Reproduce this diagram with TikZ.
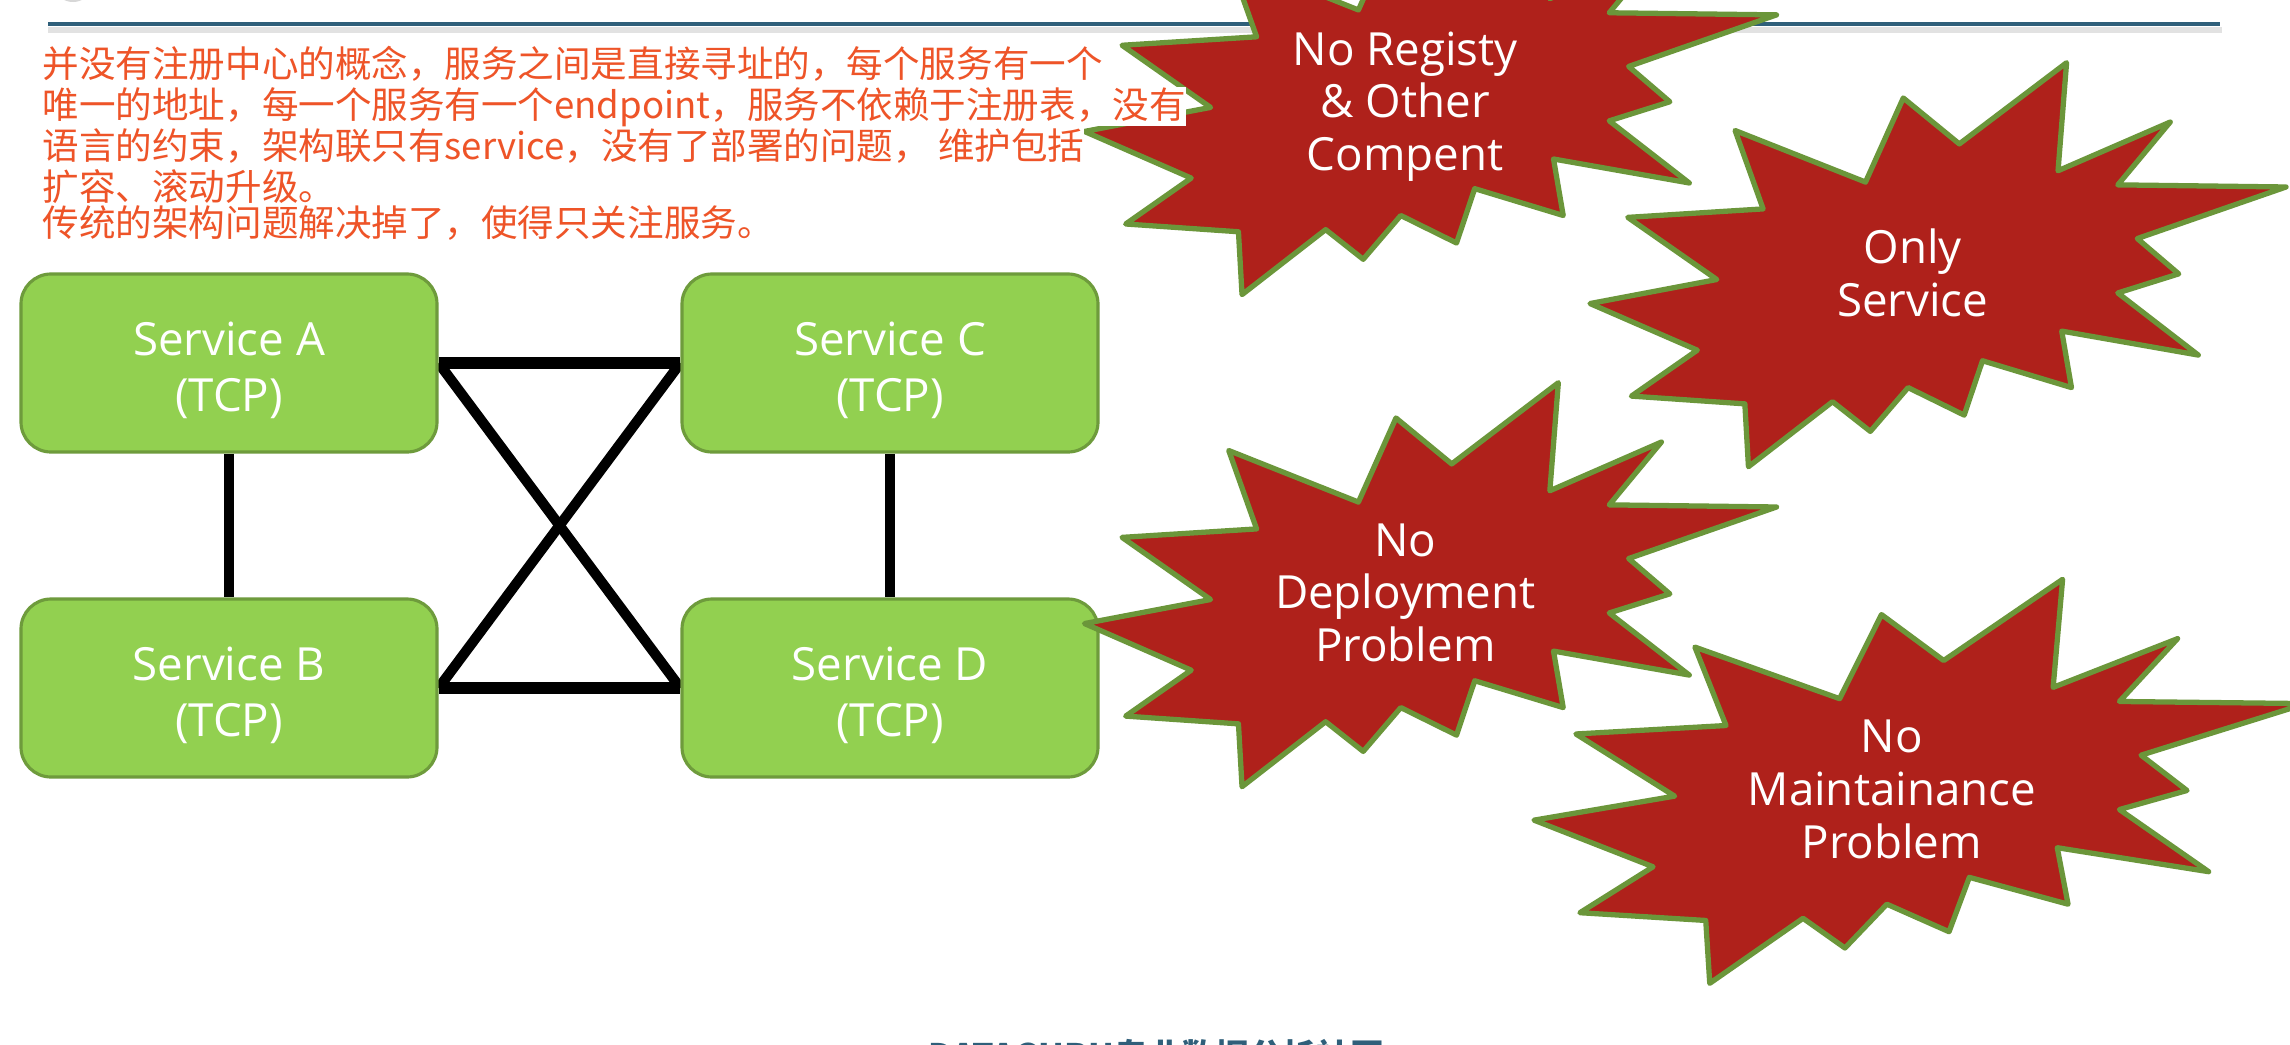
\documentclass[tikz,border=0pt]{standalone}
\usepackage{fontspec}
\setmainfont{Open Sans}
\newfontfamily\cjk{Noto Sans CJK SC}
\usetikzlibrary{backgrounds}
\definecolor{slateline}{RGB}{47,95,122}
\definecolor{shadowgray}{RGB}{226,226,226}
\definecolor{blobgray}{RGB}{215,215,215}
\definecolor{notered}{RGB}{238,84,40}
\definecolor{svcgreen}{RGB}{146,208,80}
\definecolor{svcframe}{RGB}{110,155,60}
\definecolor{burstred}{RGB}{175,33,27}
\definecolor{burstframe}{RGB}{107,150,58}
\tikzset{
  svc/.style={draw=svcframe, fill=svcgreen, rounded corners=3mm, align=center,
    minimum width=41.6mm, minimum height=17.8mm, inner sep=0pt, line width=0.9pt,
    text=white, font=\fontsize{13pt}{15.8pt}\selectfont},
  link/.style={draw=black, line width=2.9pt},
  hlink/.style={draw=black, line width=3.4pt},
  note/.style={anchor=base west, fill=white, inner sep=0pt, text=notered,
    font=\cjk\fontsize{10.4pt}{11.7pt}\selectfont},
  foot/.style={anchor=base west, inner sep=0pt, text=slateline,
    font=\cjk\bfseries\fontsize{9.6pt}{11pt}\selectfont},
  seal/.style={draw=burstframe, fill=burstred, line width=1.5pt, line join=round},
  sealtext/.style={align=center, text=white, font=\fontsize{13pt}{15pt}\selectfont},
}

% service label, first line propped up a little
\newcommand{\tcp}[1]{\rule{0pt}{13.6pt}Service #1\\(TCP)}

% explosion on a 216 grid: [#1] text shift, #2 name, (#3,#4) top left, #5 width, #6 text
\newcommand{\burst}[6][]{%
  \begin{scope}[shift={(#3,#4)}, xscale=#5/216, yscale=404/216]
    \draw[seal] (114.62,43.42) -- (97.22,18.87) -- (85.50,63.82) -- (45.02,36.25)
      -- (53.72,78.17) -- (11.72,82.70) -- (39.35,115.92) -- (0,128.77) -- (33.30,153.70)
      -- (12.85,178.25) -- (48.05,182.40) -- (49.17,216) -- (75.27,181.25)
      -- (87.00,197.12) -- (98.72,173.70) -- (116.12,188.42) -- (121.80,159.35)
      -- (149.42,173.70) -- (146.40,143.50) -- (188.77,156.32) -- (163.80,123.10)
      -- (182.70,112.90) -- (169.85,94.02) -- (216,66.45) -- (163.80,65.32)
      -- (180.07,31.72) -- (145.25,57.77) -- (147.90,0) -- cycle;
    \node[sealtext, #1] (#2) at (100.12,112.32) {#6};
  \end{scope}}

\begin{document}
\begin{tikzpicture}[x=0.1mm, y=-0.1mm]
  \useasboundingbox (0,0) rectangle (2290,1044);
  % header rule
  \fill[blobgray] (73,-12) ellipse [x radius=17, y radius=14];
  \draw[shadowgray, line width=1.8pt] (48,30) -- (2222,30);
  \draw[slateline, line width=0.9pt] (48,24) -- (2220,24);

  \burst[yshift=-1.7pt]{registy}{1084.5}{-109.4}{692}{No Registy\\\& Other\\Compent}

  % remark lines
  \node[note] (l1) at (42,77) {并没有注册中心的概念，服务之间是直接寻址的，每个服务有一个};
  \node[note] (l2) at (42,118) {唯一的地址，每一个服务有一个endpoint，服务不依赖于注册表，没有};
  \node[note] (l3) at (42,159) {语言的约束，架构联只有service，没有了部署的问题， 维护包括};
  \node[note] (l4) at (42,200) {扩容、滚动升级。};
  \node[note] (l5) at (42,236) {传统的架构问题解决掉了，使得只关注服务。};

  % services
  \node[svc] (A) at (229,363) {\tcp{A}};
  \node[svc] (B) at (229,688) {\tcp{B}};
  \node[svc] (C) at (890,363) {\tcp{C}};
  \node[svc] (D) at (890,688) {\tcp{D}};

  \begin{scope}[on background layer]
    \fill[white] (0,0) rectangle (2290,1044);
    \draw[link] (A) -- (B);
    \draw[link] (C) -- (D);
    \draw[hlink] (A.east) -- (C.west);
    \draw[hlink] (B.east) -- (D.west);
    \draw[link] (A.east) -- (D.west);
    \draw[link] (B.east) -- (C.west);
  \end{scope}

  \burst{only}{1590}{62.7}{696}{Only\\Service}
  \burst{deploy}{1084.5}{382.7}{692}{No\\Deployment\\Problem}
  \burst{maint}{1534}{579.3}{772}{No\\Maintainance\\Problem}

  \node[foot] (brand) at (928,1068) {DATAGURU专业数据分析社区};
\end{tikzpicture}
\end{document}
